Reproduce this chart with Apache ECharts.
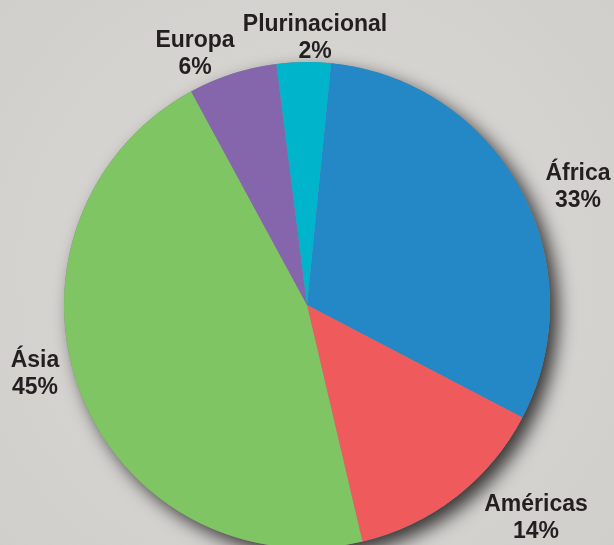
<!DOCTYPE html>
<html>
<head>
<meta charset="utf-8">
<script src="https://cdn.jsdelivr.net/npm/echarts@6/dist/echarts.min.js"></script>
<style>
html,body{margin:0;padding:0;background:#d5d3d0;}
#chart{width:614px;height:545px;}
</style>
</head>
<body>
<div id="chart"></div>
<script>
// Data (clockwise from just right of the top)
const categories = ['África', 'Américas', 'Ásia', 'Europa', 'Plurinacional'];
const values = [31.1, 13.7, 45.8, 5.9, 3.6];
const labelPercents = ['33%', '14%', '45%', '6%', '2%'];
const colors = ['#2487c6', '#ef5a5d', '#7fc563', '#8566ad', '#00b4cb'];

// label placement (layout only)
const labelPos = [[578, 187], [536, 518], [35, 374], [195, 54], [315, 38]];

const total = values.reduce((a, b) => a + b, 0);
const chart = echarts.init(document.getElementById('chart'), null, {renderer: 'canvas'});
chart.setOption({
  backgroundColor: {
    type: 'radial', x: 0.5, y: 0.5, r: 0.8,
    colorStops: [{offset: 0, color: '#dcdad7'}, {offset: 1, color: '#d0cecb'}]
  },
  animation: false,
  series: [
    {
      type: 'pie',
      silent: true,
      center: [307, 305],
      radius: 243,
      z: 1,
      label: {show: false},
      labelLine: {show: false},
      itemStyle: {
        color: '#888',
        shadowColor: 'rgba(0,0,0,0.75)',
        shadowBlur: 18,
        shadowOffsetX: 8,
        shadowOffsetY: 8
      },
      data: [{value: total, name: 'shadow'}]
    },
    {
      type: 'pie',
      center: [307, 305],
      radius: 243,
      startAngle: 84.3,
      clockwise: true,
      z: 2,
      itemStyle: {borderWidth: 0},
      label: {
        show: true,
        position: 'outside',
        formatter: p => p.name + '\n' + labelPercents[p.dataIndex],
        color: '#231f20',
        fontFamily: 'Liberation Sans, Arial, sans-serif',
        fontWeight: 'bold',
        fontSize: 23,
        lineHeight: 27,
        align: 'center'
      },
      labelLine: {show: false, length: 10, length2: 0},
      labelLayout: function (params) {
        const p = labelPos[params.dataIndex];
        return {x: p[0], y: p[1], align: 'center', verticalAlign: 'middle'};
      },
      data: categories.map((c, i) => ({
        name: c, value: values[i], itemStyle: {color: colors[i]}
      }))
    }
  ]
});
</script>
</body>
</html>
